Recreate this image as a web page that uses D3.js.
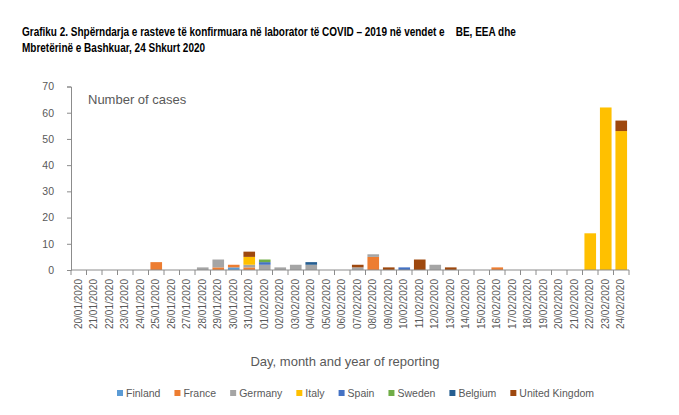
<!DOCTYPE html>
<html>
<head>
<meta charset="utf-8">
<script src="https://cdn.jsdelivr.net/npm/d3@7"></script>
<style>
  body { margin: 0; background: #fff; }
  .title { font-family: "Liberation Sans", Arial, sans-serif; font-weight: bold; font-size: 12.5px; fill: #000; white-space: pre; }
  .chart text { font-family: "Liberation Sans", Arial, sans-serif; fill: #595959; }
</style>
</head>
<body>
<svg id="chart" width="679" height="415"></svg>
<script>
// Reporting dates (20 Jan - 24 Feb 2020)
const dates = [
  "20/01/2020", "21/01/2020", "22/01/2020", "23/01/2020", "24/01/2020", "25/01/2020",
  "26/01/2020", "27/01/2020", "28/01/2020", "29/01/2020", "30/01/2020", "31/01/2020",
  "01/02/2020", "02/02/2020", "03/02/2020", "04/02/2020", "05/02/2020", "06/02/2020",
  "07/02/2020", "08/02/2020", "09/02/2020", "10/02/2020", "11/02/2020", "12/02/2020",
  "13/02/2020", "14/02/2020", "15/02/2020", "16/02/2020", "17/02/2020", "18/02/2020",
  "19/02/2020", "20/02/2020", "21/02/2020", "22/02/2020", "23/02/2020", "24/02/2020"
];

const countries = ["Finland", "France", "Germany", "Italy", "Spain", "Sweden", "Belgium", "United Kingdom"];
const colors = ["#5b9bd5", "#ed7d31", "#a5a5a5", "#ffc000", "#4472c4", "#70ad47", "#255e91", "#9e480e"];

// cases per country, one value per date
const finland = [0,0,0,0,0,0, 0,0,0,0,1,0, 0,0,0,0,0,0, 0,0,0,0,0,0, 0,0,0,0,0,0, 0,0,0,0,0,0];
const france  = [0,0,0,0,0,3, 0,0,0,1,1,1, 0,0,0,0,0,0, 0,5,0,0,0,0, 0,0,0,1,0,0, 0,0,0,0,0,0];
const germany = [0,0,0,0,0,0, 0,0,1,3,0,1, 2,1,2,2,0,0, 1,1,0,0,0,2, 0,0,0,0,0,0, 0,0,0,0,0,0];
const italy   = [0,0,0,0,0,0, 0,0,0,0,0,3, 0,0,0,0,0,0, 0,0,0,0,0,0, 0,0,0,0,0,0, 0,0,0,14,62,53];
const spain   = [0,0,0,0,0,0, 0,0,0,0,0,0, 1,0,0,0,0,0, 0,0,0,1,0,0, 0,0,0,0,0,0, 0,0,0,0,0,0];
const sweden  = [0,0,0,0,0,0, 0,0,0,0,0,0, 1,0,0,0,0,0, 0,0,0,0,0,0, 0,0,0,0,0,0, 0,0,0,0,0,0];
const belgium = [0,0,0,0,0,0, 0,0,0,0,0,0, 0,0,0,1,0,0, 0,0,0,0,0,0, 0,0,0,0,0,0, 0,0,0,0,0,0];
const uk      = [0,0,0,0,0,0, 0,0,0,0,0,2, 0,0,0,0,0,0, 1,0,1,0,4,0, 1,0,0,0,0,0, 0,0,0,0,0,4];

const series = [finland, france, germany, italy, spain, sweden, belgium, uk];
const yTicks = [0, 10, 20, 30, 40, 50, 60, 70];

const svg = d3.select("#chart");

// Title (original is a narrow bold face, so squeeze it horizontally)
svg.append("text").attr("class", "title")
  .attr("transform", "translate(22,36) scale(0.8,1)")
  .text("Grafiku 2. Shpërndarja e rasteve të konfirmuara në laborator të COVID – 2019 në vendet e    BE, EEA dhe");
svg.append("text").attr("class", "title")
  .attr("transform", "translate(22,52) scale(0.8,1)")
  .text("Mbretërinë e Bashkuar, 24 Shkurt 2020");

const g = svg.append("g").attr("class", "chart");

// build rows for the stack
const rows = dates.map((d, i) => {
  const r = { date: d };
  countries.forEach((c, k) => r[c] = series[k][i]);
  return r;
});
const stacked = d3.stack().keys(countries)(rows);

const x = d3.scaleBand().domain(dates).range([71, 629]).paddingInner(0.25).paddingOuter(0.125);
const y = d3.scaleLinear().domain([0, 70]).range([270, 86.5]);
const color = d3.scaleOrdinal().domain(countries).range(colors);

// Bars
g.selectAll(".layer")
  .data(stacked)
  .enter()
  .append("g")
  .attr("fill", d => color(d.key))
  .selectAll("rect")
  .data(d => d.filter(v => v[1] > v[0]))
  .enter()
  .append("rect")
  .attr("x", d => x(d.data.date))
  .attr("width", x.bandwidth())
  .attr("y", d => y(d[1]))
  .attr("height", d => y(d[0]) - y(d[1]));

// Y axis
const yAxis = g.append("g")
  .attr("transform", "translate(71,0)")
  .call(d3.axisLeft(y).tickValues(yTicks).tickSize(4).tickPadding(13));
yAxis.select(".domain").attr("stroke", "#8c8c8c");
yAxis.selectAll(".tick line").attr("stroke", "#8c8c8c");
yAxis.selectAll(".tick text").style("font-size", "10.5px").attr("fill", "#6a6a6a");

// X axis: tick marks on category boundaries
const xAxis = g.append("g").attr("transform", "translate(0,270)");
xAxis.append("line").attr("x1", 71).attr("x2", 629).attr("stroke", "#8c8c8c");
const step = x.step();
xAxis.selectAll(".bound")
  .data(d3.range(dates.length + 1))
  .enter()
  .append("line")
  .attr("x1", i => 71 + i * step)
  .attr("x2", i => 71 + i * step)
  .attr("y1", 0)
  .attr("y2", 5)
  .attr("stroke", "#8c8c8c");

xAxis.selectAll(".lab")
  .data(dates)
  .enter()
  .append("text")
  .attr("transform", d => `translate(${x(d) + x.bandwidth() / 2 + 3},9) rotate(-90)`)
  .attr("text-anchor", "end")
  .style("font-size", "10px")
  .text(d => d);

// Axis titles
g.append("text")
  .attr("x", 88).attr("y", 104)
  .style("font-size", "13px")
  .text("Number of cases");

g.append("text")
  .attr("x", 345).attr("y", 366)
  .attr("text-anchor", "middle")
  .style("font-size", "13px")
  .text("Day, month and year of reporting");

// Legend
const legend = g.append("g").attr("transform", "translate(117,393)");
let lx = 0;
countries.forEach(c => {
  const item = legend.append("g").attr("transform", `translate(${lx},0)`);
  item.append("rect")
    .attr("x", 0).attr("y", -3)
    .attr("width", 6).attr("height", 6)
    .attr("fill", color(c));
  const t = item.append("text")
    .attr("x", 9).attr("y", 3.5)
    .style("font-size", "10.5px")
    .text(c);
  lx += 9 + t.node().getComputedTextLength() + 14;
});
</script>
</body>
</html>
